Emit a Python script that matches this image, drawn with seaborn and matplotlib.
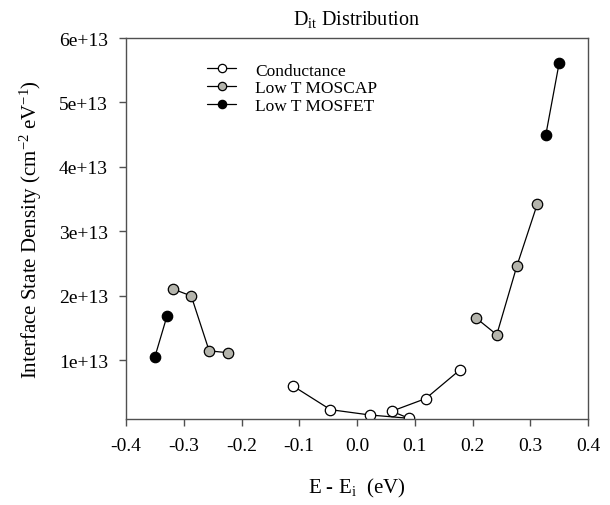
import matplotlib
matplotlib.use("Agg")
import matplotlib.pyplot as plt
from matplotlib.lines import Line2D
from matplotlib.ticker import FuncFormatter
import seaborn as sns
import pandas as pd

# ---- data ----
cond_x = [-0.110, -0.046, 0.0225, 0.090, 0.060, 0.119, 0.179]
cond_y = [0.60e13, 0.238e13, 0.155e13, 0.104e13, 0.213e13, 0.41e13, 0.86e13]
cond_seg = [0, 0, 0, 0, 0, 0, 0]

moscap_x = [-0.319, -0.287, -0.256, -0.223, 0.206, 0.242, 0.277, 0.312]
moscap_y = [2.11e13, 2.00e13, 1.15e13, 1.12e13, 1.66e13, 1.40e13, 2.47e13, 3.42e13]
moscap_seg = [0, 0, 0, 0, 1, 1, 1, 1]

mosfet_x = [-0.350, -0.329, 0.327, 0.350]
mosfet_y = [1.056e13, 1.69e13, 4.50e13, 5.61e13]
mosfet_seg = [0, 0, 1, 1]

series_names = ["Conductance", "Low T MOSCAP", "Low T MOSFET"]
face_colors = ["white", "#b4b4ac", "black"]

x_ticks = [-0.4, -0.3, -0.2, -0.1, 0.0, 0.1, 0.2, 0.3, 0.4]
y_ticks = [1e13, 2e13, 3e13, 4e13, 5e13, 6e13]

sns.set_style("ticks")
plt.rcParams["font.family"] = ["Liberation Serif", "DejaVu Serif"]
plt.rcParams["mathtext.fontset"] = "custom"
plt.rcParams["mathtext.rm"] = "Liberation Serif"
plt.rcParams["mathtext.it"] = "Liberation Serif"
for k in ["text.color", "axes.labelcolor", "xtick.labelcolor", "ytick.labelcolor"]:
    plt.rcParams[k] = "black"

fig = plt.figure(figsize=(6.1, 5.06), dpi=100)
ax = fig.add_axes([126 / 610, 1 - 420 / 506, (588 - 126) / 610, (420 - 39) / 506])

frames = [
    pd.DataFrame({"x": cond_x, "y": cond_y, "seg": cond_seg}),
    pd.DataFrame({"x": moscap_x, "y": moscap_y, "seg": moscap_seg}),
    pd.DataFrame({"x": mosfet_x, "y": mosfet_y, "seg": mosfet_seg}),
]

for df, fc in zip(frames, face_colors):
    sns.lineplot(data=df, x="x", y="y", units="seg", estimator=None, sort=False,
                 color="black", linewidth=0.9, marker="o", markersize=7.5,
                 markerfacecolor=fc, markeredgecolor="black", markeredgewidth=0.9,
                 ax=ax, legend=False, clip_on=True)

ax.set_xlim(-0.4, 0.4)
ax.set_ylim(0.093e13, 6e13)
ax.set_xticks(x_ticks)
ax.set_xticklabels([f"{t:.1f}" for t in x_ticks])
ax.set_yticks(y_ticks)
ax.yaxis.set_major_formatter(FuncFormatter(lambda v, p: f"{int(round(v / 1e13))}e+13"))

for s in ax.spines.values():
    s.set_color("#505050")
    s.set_linewidth(1.0)
ax.tick_params(direction="out", length=5, width=1.0, color="#505050",
               labelsize=14, pad=8)

ax.set_xlabel("E - E$_\\mathrm{i}$  (eV)", fontsize=15, labelpad=16)
ax.set_ylabel("Interface State Density (cm$^{-2}$ eV$^{-1}$)", fontsize=15, labelpad=11)
ax.set_title("D$_\\mathrm{it}$ Distribution", fontsize=14.5, pad=10)

handles = [Line2D([0], [0], color="black", linewidth=0.9, marker="o", markersize=6,
                  markerfacecolor=fc, markeredgecolor="black", markeredgewidth=0.9)
           for fc in face_colors]
ax.legend(handles, series_names, loc="upper left", bbox_to_anchor=(0.175, 0.936),
          frameon=False, fontsize=12.5, handlelength=1.7, handletextpad=1.1,
          labelspacing=0.08, borderpad=0, borderaxespad=0)

fig.savefig("out.png", dpi=100)
